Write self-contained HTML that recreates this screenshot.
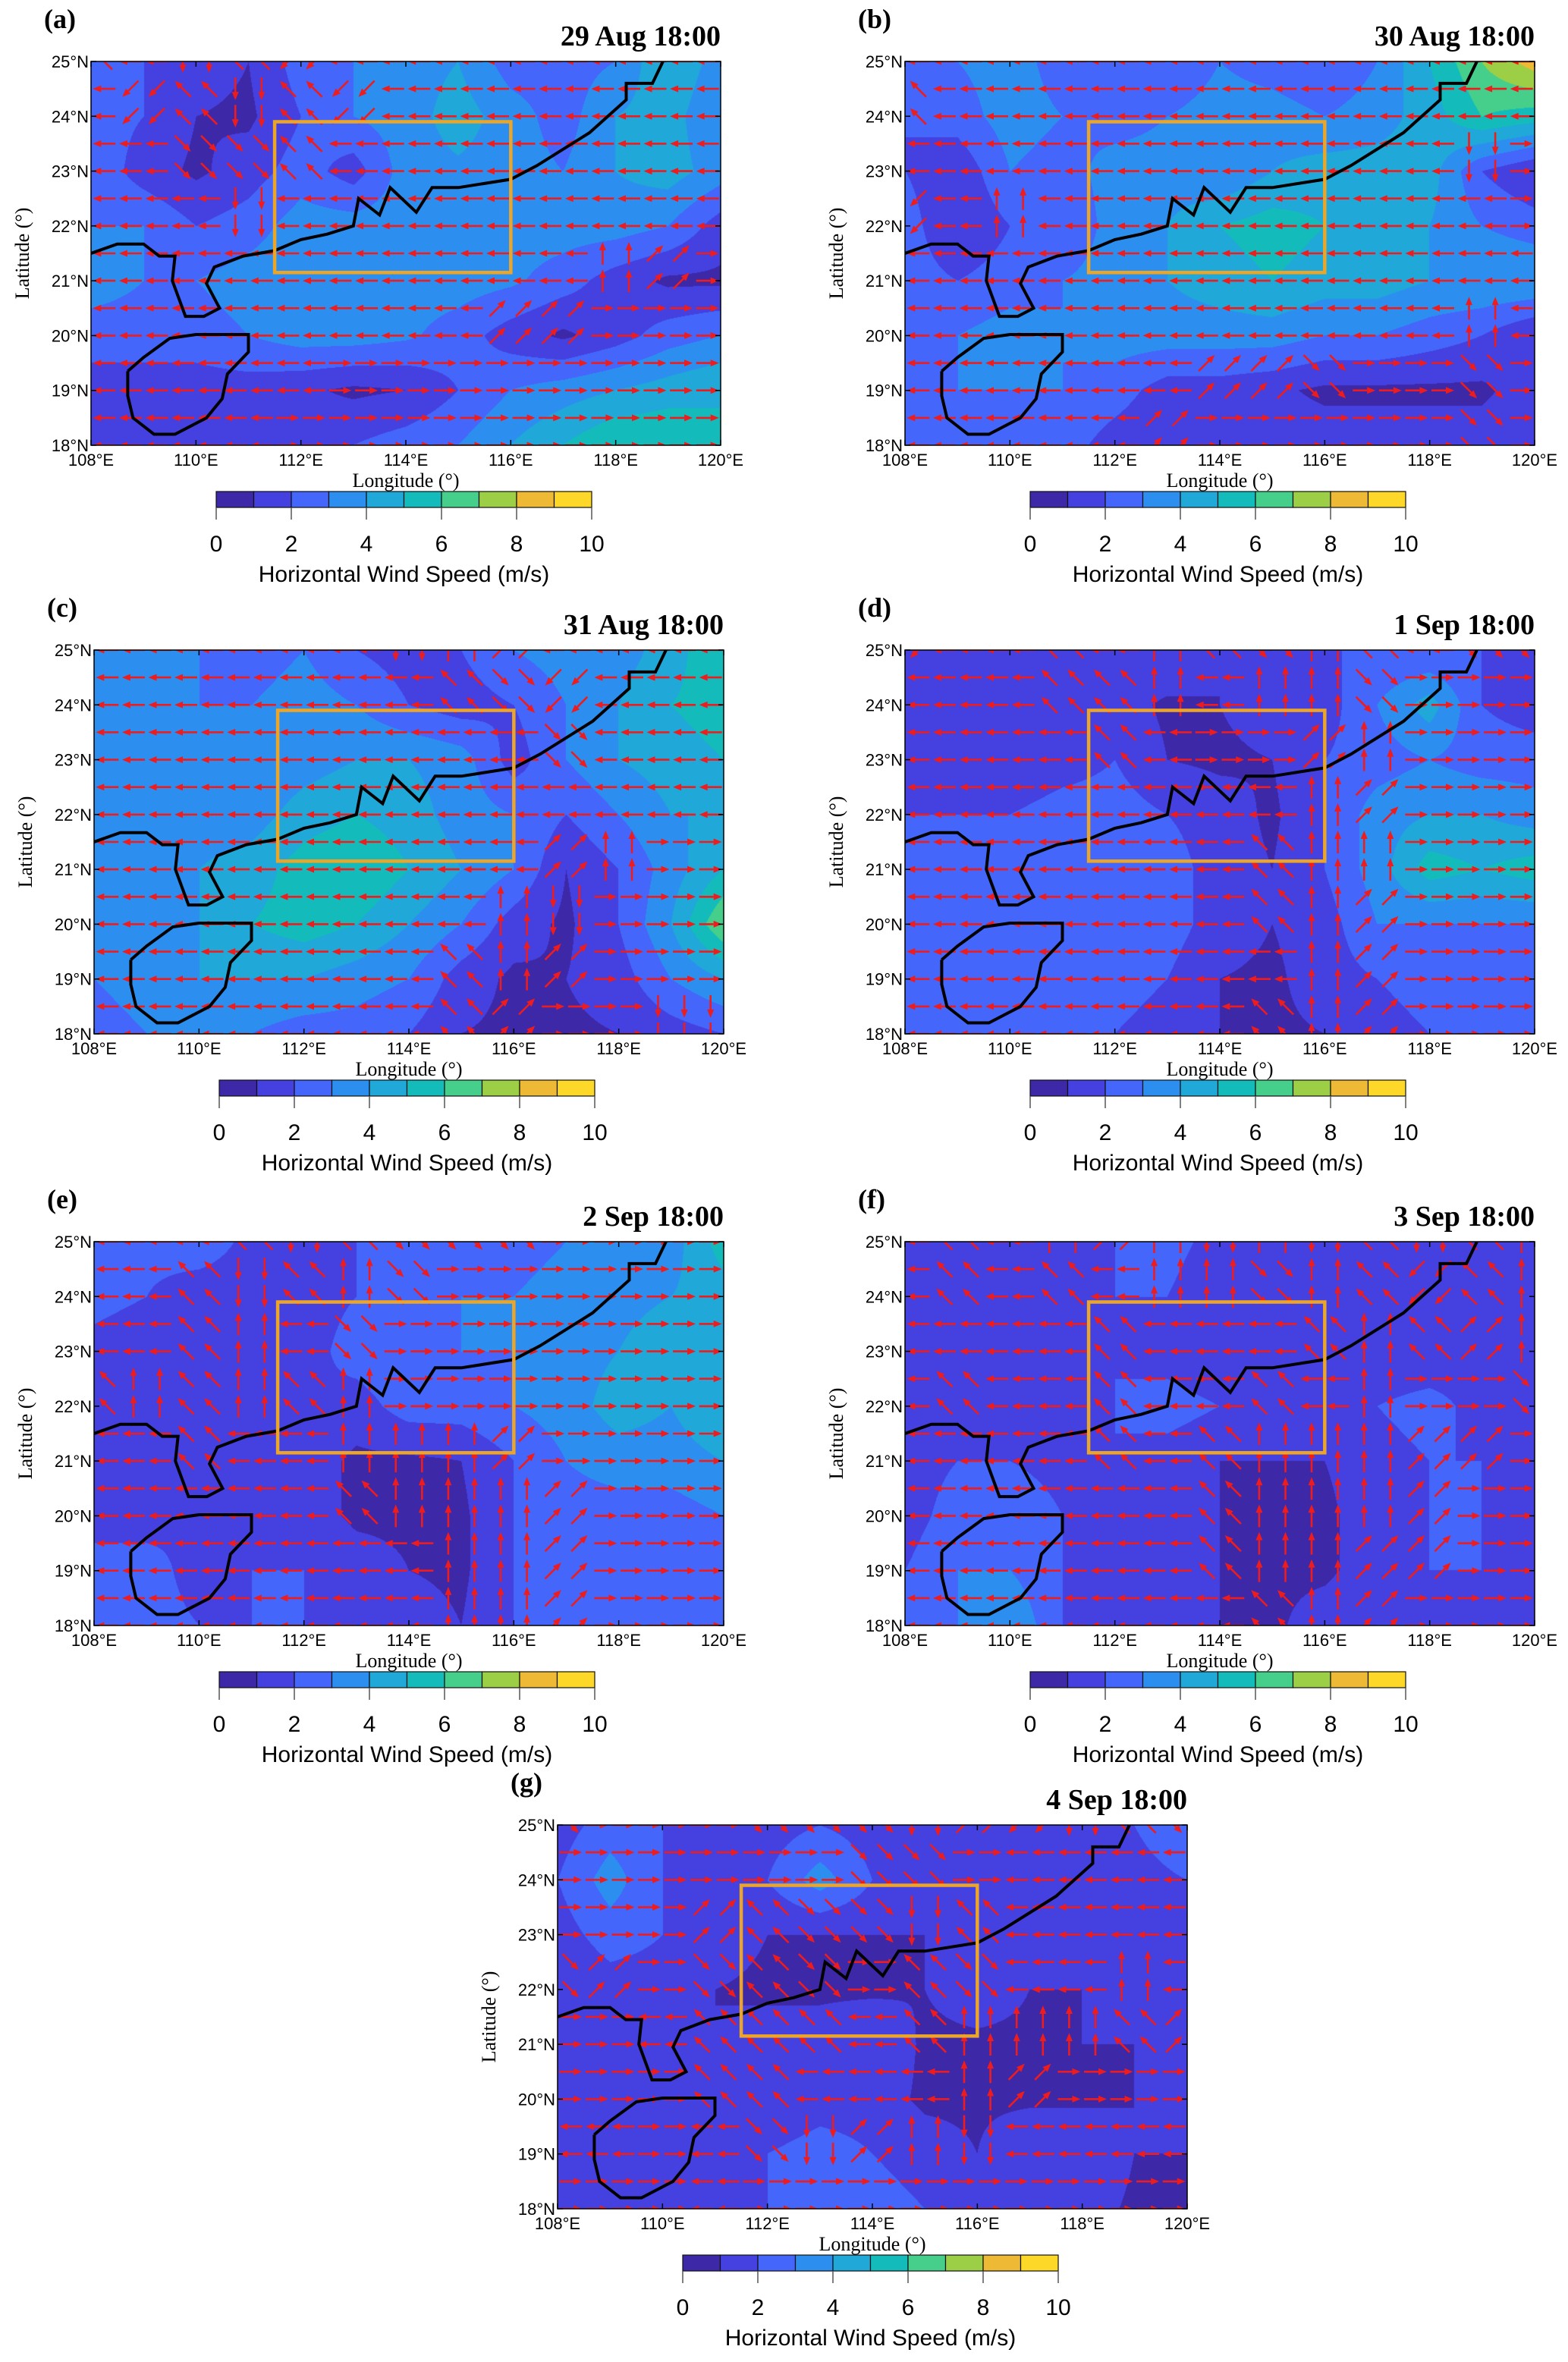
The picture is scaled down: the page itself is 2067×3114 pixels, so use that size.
<!DOCTYPE html>
<html><head><meta charset="utf-8">
<style>
html,body{margin:0;padding:0;background:#fff;}
#root{position:relative;width:2067px;height:3114px;overflow:hidden;background:#fff;}
canvas{position:absolute;}
svg{position:absolute;left:0;top:0;}
</style></head>
<body>
<div id="root">
<svg id="ov" width="2067" height="3114"></svg>
</div>
<script>
// ---- data ----
const panelLabels = ["(a)","(b)","(c)","(d)","(e)","(f)","(g)"];
const panelDates = ["29 Aug 18:00","30 Aug 18:00","31 Aug 18:00","1 Sep 18:00","2 Sep 18:00","3 Sep 18:00","4 Sep 18:00"];
const lonTicks = [108,110,112,114,116,118,120];
const latTicks = [25,24,23,22,21,20,19,18];
const gridLons = [108,109,110,111,112,113,114,115,116,117,118,119,120];
const gridLats = [25,24,23,22,21,20,19,18];
const cbTicks = [0,2,4,6,8,10];
const levelColors = ["#3d28a8","#4540e0","#4466fa","#2c8ff0","#1fa8d8","#13bcbb","#45cf8a","#9ccf45","#eeba35","#fdd828"];
// wind speed (m/s) rows: lat 25 -> 18, cols lon 108 -> 120
const speedA = [
[2,2,1.5,1,2.5,3,3.5,4,2.5,2.5,3,5,3.5],
[2.5,2,1,0.8,2,3,3.5,4.5,3.5,2.5,4,4.5,3],
[2.8,1.5,0.8,1.5,2.5,1.5,3.5,3.8,3.5,3,4,4.5,3.5],
[3,3,2,2.5,3.5,3.5,3.5,3.5,3.5,3.5,3.5,3,1.5],
[3.5,3,3,3.5,3.8,3.8,3.5,3.5,3.2,2.5,1.5,0.8,0.8],
[2.5,2.5,2.5,3,3.5,3.5,3.2,2.5,1.5,0.8,1.5,2.5,3],
[1.5,1.5,1.5,1.5,1.2,0.8,1,2,3,3.5,4,4.5,5],
[1,1,1,1,1.5,2,2.5,3,4,5,6,6,5]];
const speedB = [
[2.5,3,3.5,2.5,3,2,3,2.5,2,3,5,7,8.5],
[2,2.5,3.5,3,2.5,3,3.5,3.5,3,3.5,4.5,6,5.5],
[2,1.2,3,2.5,3.5,3.5,3,4,4.5,4.5,4.5,2,1],
[2.5,1,2,2,3.5,4,5,5.5,5,4.5,4,3,2.5],
[2.5,2,2.5,3,3.5,4,4.5,5,4.5,4.5,4,4,4],
[2,3,3.5,3,3.5,3.5,3.5,3.5,3,3,2.5,2,1],
[2.5,3,3,3,2.5,1.5,1.5,1.2,0.8,0.8,0.8,0.8,1.5],
[2.5,2.5,2.5,2.5,1.5,1,1.5,1.5,1.5,1.5,1.5,1.5,2]];
const speedC = [
[3,3.5,3,2.5,3,2,1.5,2,3,3.5,3.5,4.5,6],
[3,3.5,3,3,3.5,3,2,1.5,2,3,4,5,5.5],
[3,3.5,3.5,3,3.5,4,4,3.5,1.5,3,4,4.5,5],
[3,3.5,3.5,3.5,4.5,5,4.5,3.5,3,2,3,4,4],
[3,3.5,4,4.5,5.5,6,5,4,3,1,2,3.5,5],
[3,3.5,4,5,5.5,5,4,3,1.5,0.8,2,4,7],
[3,3.5,4,4,4,3.5,3,1.5,0.8,1,1.5,3,4],
[2.5,3,3,3,2.5,2.5,2,1,0.8,0.8,1,1.5,2]];
const speedD = [
[1.5,2,1,1.5,1.5,2,1,2,2,2,2,2,1.5],
[1,1.5,1,1.5,1.5,0.8,1,1.5,1.5,3,4.5,2,1.5],
[1.5,1.5,1,1.5,2,1,0.8,1,2,2.5,3,2.5,2.5],
[2,2,2,2.5,2.5,2,1.5,0.8,2,3.5,4,4,3.5],
[2.5,2.5,2.5,2.5,3,2.5,1.5,1,2,3.5,5.5,5,5.5],
[2,2,2,2.5,2.5,2.5,1.5,1,1.5,3,3,3,3],
[2,2.5,2.5,2,2.5,2,1,0.8,1.5,2,2.5,2.5,3],
[2,2.5,3,2,2,1.5,1,0.8,1,1.5,2,2,2]];
const speedE = [
[2,2.5,3,1.5,1.5,2,2.5,2,2.5,3,3,3.5,5.5],
[2.5,2,1,1,1.5,2,2.5,3,3,3.5,3.5,4,4.5],
[1.5,1,1,1,1.5,2.5,3,3,3,3.5,4,5,4.5],
[1,1,1.5,1,2,1.5,2.5,2.5,3,3.5,4.5,4,5],
[1,1,1.5,1.5,1.5,0.8,0.8,1,2,3,3.5,3.5,4],
[1.5,1.5,2,1.5,1.5,0.8,0.8,0.8,2,2.5,2.5,2.5,3],
[2.5,2.5,1.5,2,2,1.5,1,0.8,2,2.5,2.5,2.5,2.5],
[2,2.5,2,2,2,2,1.5,1,2,2.5,2.5,2.5,3]];
const speedF = [
[2,1,1.5,1,2,2.5,1.5,1,1.5,1,1,1.5,1.5],
[2,1,1.5,1.5,2,2,1,1.5,1,1,1.5,1.5,1.5],
[1.5,1,1.5,1.5,2,1.5,1,1.5,1,1,1,1.5,1],
[2,1.5,2,2,2,2.5,2,1.5,1.5,2,2.5,1.5,1.5],
[1.5,2,2,1.5,2,1.5,1,1,1,1.5,2,2,2],
[1.5,2.5,3,2,2,1.5,1,0.8,0.8,1.5,2,2,1.5],
[2,3,3,2,1.5,1.5,1,0.8,0.8,1.5,2,2,1.5],
[2,3,4,2,2,1.5,1,0.8,1.5,2,2,1.5,1.5]];
const speedG = [
[1.5,2.5,2,2,1.5,2,1.5,1.5,1,1.5,1.5,2,3],
[2,3.5,2,1.5,2,3.5,2,1.5,2,1.5,1,1.5,2],
[1.5,2.5,2,1.5,1,1,1,1,1.5,1.5,1,1,1.5],
[1,1.5,1.5,1,0.8,0.8,0.8,1,1.5,1,1,2,1],
[1.5,1,1,1,1.5,1.5,2,0.8,0.8,0.8,1,1,1],
[1,1,1,1,1,1.5,1.5,0.8,0.8,0.8,0.8,1,1.5],
[1.5,1,1.5,1.5,2,2.5,2,1.5,1,2,2,1,1],
[1.5,1,1,1.5,2,2.5,2.5,2,2,2,1.5,0.8,0.8]];
// wind direction codes per 1deg cell: W=west E=east N=north S=south Q=NW R=NE T=SW U=SE
const windA = ["QWSQTWWWWWWWW","WTQSQTWWWWWWW","WWUUQWWWWWWWW","WWWSWWWWWWWWW","WWWWWWWWWWNRE","WWWWWWWWRREEE","WWWWWEEEEEEEE","WWWWEEEEEEEEE"];
const windB = ["WWWWWWWWWWWWW","QWWWWWWWWWWWW","WWWWWWWWWWWSE","TWNWWWWWWWWWE","WWWWWWWWWWWWW","WWWWWWWWWWWNW","WWWWWWRRUEEUE","WWWWWREEEEEUE"];
const windC = ["WWWWWWSNRWWWW","WWWWWWWQUTWWW","WWWWWWWWWUWWW","WWWWWWWWWWWWW","WWWWWWWWWRNEE","WWWWWWWWNSEEE","WWWWWWWQNREEE","WWWWWWWQREESS"];
const windD = ["TWWQWNQUNQWUU","WWWQQNWNNUEEE","WWWWQWEERNEEE","WWWWWWWWNREEE","WWWWWWWQNNEEE","WWWWWWWQNREEE","WWWWWWWWNREEE","WWWWWWWQNREEE"];
const windE = ["WWWQSQUUUEEEE","WWQSQNUEEEEEE","WWQNWUEEEEEEE","QNQNQNEEEEEEE","WWQWWNNNREEEE","WWWWWQNNNREEE","WWWWWWWNNREEE","WWWWWWWNNREEE"];
const windF = ["WQWNRNSNSQSQN","WQWQWNNUNQTQN","WWWWQWWWQNQRN","WQWWQWWQWNEEU","WWWWQWQNNNRRE","WWWWWWQNNNREE","WWWWWWQNNRREE","WWWWWWWQNREEE"];
const windG = ["UEEEUUUSRTSQU","EEEEEEUUEWWWW","EEERQUUSQWWWW","UREUQUEQUWWNW","EEWQQQWQNNNQR","EEEQQWWWNREEE","WWEWUSRNSWWWW","EEEWEEEEEEEEE"];
const coastLon = [108,108.5,109,109.3,109.6,109.55,109.8,110.15,110.45,110.2,110.35,110.9,111.5,112,112.5,113,113.1,113.5,113.7,114.2,114.5,115,116,116.5,117.5,118.2,118.2,118.7,118.9];
const coastLat = [21.5,21.67,21.67,21.45,21.45,21.0,20.35,20.35,20.5,20.95,21.25,21.45,21.55,21.75,21.85,22.0,22.5,22.2,22.7,22.25,22.7,22.7,22.85,23.1,23.7,24.3,24.6,24.6,25];
const hainanLon = [108.7,109,109.5,110,111,111,110.6,110.5,110.2,109.6,109.2,108.8,108.7,108.7];
const hainanLat = [19.35,19.6,19.95,20.02,20.02,19.7,19.3,18.85,18.5,18.2,18.2,18.5,18.9,19.35];
const boxLon = [111.5,116];
const boxLat = [21.15,23.9];

const speeds=[speedA,speedB,speedC,speedD,speedE,speedF,speedG];
const winds=[windA,windB,windC,windD,windE,windF,windG];
// layout
const PX=[120,1193,124,1193,124,1193,735];
const PY=[81,81,857,857,1637,1637,2406];
const W=830,H=506;
const dirAng={W:180,E:0,N:90,S:270,Q:135,R:45,T:225,U:315};
const NS="http://www.w3.org/2000/svg";
const ov=document.getElementById('ov');
const root=document.getElementById('root');
function mk(tag,attrs,parent){const e=document.createElementNS(NS,tag);for(const k in attrs)e.setAttribute(k,attrs[k]);(parent||ov).appendChild(e);return e;}
function hexRGB(h){return [parseInt(h.substr(1,2),16),parseInt(h.substr(3,2),16),parseInt(h.substr(5,2),16)];}
const rgbs=levelColors.map(hexRGB);

for(let p=0;p<7;p++){
  const x0=PX[p],y0=PY[p];
  const xs=lon=>x0+(lon-108)/12*W;
  const ys=lat=>y0+(25-lat)/7*H;
  const cv=document.createElement('canvas');cv.width=W;cv.height=H;
  cv.style.left=x0+'px';cv.style.top=y0+'px';
  
  
  root.insertBefore(cv,ov);
  const ctx=cv.getContext('2d');const img=ctx.createImageData(W,H);const S=speeds[p];
  for(let j=0;j<H;j++){
    const fy=j/(H-1)*(gridLats.length-1);const r0=Math.min(Math.floor(fy),gridLats.length-2);const ty=fy-r0;
    for(let i=0;i<W;i++){
      const fx=i/(W-1)*(gridLons.length-1);const c0=Math.min(Math.floor(fx),gridLons.length-2);const tx=fx-c0;
      const v=(S[r0][c0]*(1-tx)+S[r0][c0+1]*tx)*(1-ty)+(S[r0+1][c0]*(1-tx)+S[r0+1][c0+1]*tx)*ty;
      const lv=Math.max(0,Math.min(9,Math.floor(v)));const c=rgbs[lv];const k=(j*W+i)*4;
      img.data[k]=c[0];img.data[k+1]=c[1];img.data[k+2]=c[2];img.data[k+3]=255;
    }
  }
  ctx.putImageData(img,0,0);
  const g=mk('g',{});
  
  
  const clipId='clip'+p;
  const cp=mk('clipPath',{id:clipId},g);mk('rect',{x:x0,y:y0,width:W,height:H},cp);
  const ag=mk('g',{'clip-path':'url(#'+clipId+')'},g);
  
  
  const Wd=winds[p];
  for(let la=25;la>=18;la-=0.5){
    for(let lo=108.25;lo<120.3;lo+=0.5){
      const r=Math.round(25-la);const c=Math.min(12,Math.round(lo-108));
      const a=dirAng[Wd[r][c]]*Math.PI/180;
      const cx=xs(lo),cy=ys(la),L=30;
      const dx=Math.cos(a),dy=-Math.sin(a);
      const tx1=cx-dx*L/2,ty1=cy-dy*L/2,hx=cx+dx*L/2,hy=cy+dy*L/2;
      const bx=hx-dx*11,by=hy-dy*11;
      const line=mk('line',{x1:tx1.toFixed(1),y1:ty1.toFixed(1),x2:bx.toFixed(1),y2:by.toFixed(1),stroke:'#ee1c1c','stroke-width':2.6},ag);
      
      
      const hd=mk('polygon',{points:`${hx.toFixed(1)},${hy.toFixed(1)} ${(bx-dy*4.5).toFixed(1)},${(by+dx*4.5).toFixed(1)} ${(bx+dy*4.5).toFixed(1)},${(by-dx*4.5).toFixed(1)}`,fill:'#ee1c1c'},ag);
      
      
    }
  }
  const cg=mk('g',{'clip-path':'url(#'+clipId+')'},g);
  const c1=mk('polyline',{points:coastLon.map((l,k)=>xs(l).toFixed(1)+','+ys(coastLat[k]).toFixed(1)).join(' '),fill:'none',stroke:'#000','stroke-width':4,'stroke-linejoin':'miter'},cg);
  
  
  const c2=mk('polyline',{points:hainanLon.map((l,k)=>xs(l).toFixed(1)+','+ys(hainanLat[k]).toFixed(1)).join(' '),fill:'none',stroke:'#000','stroke-width':4},cg);
  
  
  const bx=mk('rect',{x:xs(boxLon[0]),y:ys(boxLat[1]),width:xs(boxLon[1])-xs(boxLon[0]),height:ys(boxLat[0])-ys(boxLat[1]),fill:'none',stroke:'#eba629','stroke-width':4.5},g);
  
  
  const fr=mk('rect',{x:x0,y:y0,width:W,height:H,fill:'none',stroke:'#000','stroke-width':1.5},g);
  
  
  lonTicks.forEach(lo=>{
    const X=xs(lo);
    mk('line',{x1:X,y1:y0,x2:X,y2:y0+7,stroke:'#000','stroke-width':1.5},g);
    mk('line',{x1:X,y1:y0+H,x2:X,y2:y0+H-7,stroke:'#000','stroke-width':1.5},g);
    const t=mk('text',{x:X,y:y0+H+27,'text-anchor':'middle','font-family':'Liberation Sans, sans-serif','font-size':22},g);
    t.textContent=lo+'°E';
    
    
  });
  latTicks.forEach(la=>{
    const Y=ys(la);
    mk('line',{x1:x0,y1:Y,x2:x0+7,y2:Y,stroke:'#000','stroke-width':1.5},g);
    mk('line',{x1:x0+W,y1:Y,x2:x0+W-7,y2:Y,stroke:'#000','stroke-width':1.5},g);
    const t=mk('text',{x:x0-3,y:Y+8,'text-anchor':'end','font-family':'Liberation Sans, sans-serif','font-size':22},g);
    t.textContent=la+'°N';
    
    
  });
  const xt=mk('text',{x:x0+W/2,y:y0+H+55,'text-anchor':'middle','font-family':'Liberation Serif, serif','font-size':26},g);
  xt.textContent='Longitude (°)';
  
  
  const yt=mk('text',{x:0,y:0,'text-anchor':'middle','font-family':'Liberation Serif, serif','font-size':26,transform:`translate(${x0-82},${y0+H/2}) rotate(-90)`},g);
  yt.textContent='Latitude (°)';
  
  
  const pl=mk('text',{x:x0-62,y:y0-44,'font-family':'Liberation Serif, serif','font-size':36,'font-weight':'bold'},g);
  pl.textContent=panelLabels[p];
  
  
  const dt=mk('text',{x:x0+W,y:y0-21,'text-anchor':'end','font-family':'Liberation Serif, serif','font-size':38,'font-weight':'bold'},g);
  dt.textContent=panelDates[p];
  
  
  const cbx=x0+165,cby=y0+567,cbw=495,cbh=21;
  const cb=mk('g',{},g);
  
  
  levelColors.forEach((col,k)=>{
    const r=mk('rect',{x:cbx+k*cbw/10,y:cby,width:cbw/10,height:cbh,fill:col,stroke:'#111','stroke-width':1.2},cb);
    
    
  });
  cbTicks.forEach(v=>{
    const X=cbx+v/10*cbw;
    mk('line',{x1:X,y1:cby+cbh,x2:X,y2:cby+cbh+16,stroke:'#555','stroke-width':1.5},cb);
    const t=mk('text',{x:X,y:cby+cbh+58,'text-anchor':'middle','font-family':'Liberation Sans, sans-serif','font-size':30},cb);
    t.textContent=v;
    
    
  });
  const ct=mk('text',{x:cbx+cbw/2,y:cby+cbh+98,'text-anchor':'middle','font-family':'Liberation Sans, sans-serif','font-size':30},cb);
  ct.textContent='Horizontal Wind Speed (m/s)';
  
  
}
</script>
</body></html>
